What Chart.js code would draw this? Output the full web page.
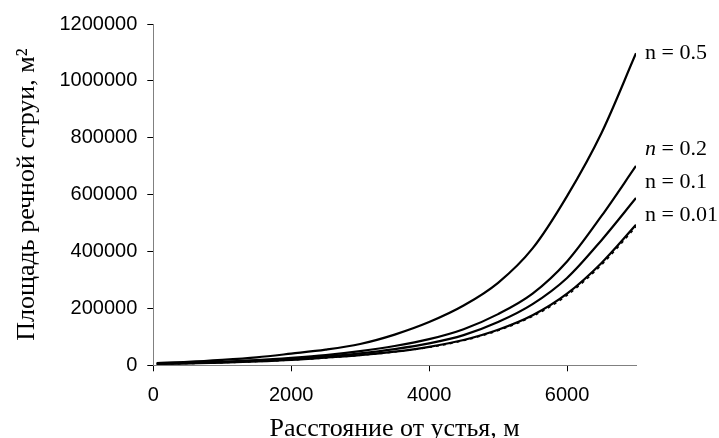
<!DOCTYPE html>
<html><head><meta charset="utf-8">
<script src="https://cdn.jsdelivr.net/npm/chart.js@4.4.0/dist/chart.umd.min.js"></script>
<style>html,body{margin:0;padding:0;background:#fff}</style>
</head><body>
<canvas id="c" width="719" height="438"></canvas>
<script>
// ---- data ----
const distances = [50, 500, 1000, 1500, 2000, 2500, 3000, 3500, 4000, 4500, 5000, 5500, 6000, 6500, 7000];
const areaN05  = [8000, 12000, 19000, 28000, 41000, 55000, 75000, 108000, 152000, 210000, 290000, 411000, 595000, 817000, 1097000];
const areaN02  = [6000, 8500, 12500, 18000, 26000, 36000, 50000, 68000, 92000, 127000, 180000, 252000, 365000, 525000, 701000];
const areaN01  = [5500, 7500, 11000, 15500, 22000, 31000, 42000, 57000, 77000, 106000, 152000, 215000, 307000, 440000, 588000];
const areaN001 = [5000, 6500, 9500, 13500, 19000, 27000, 36000, 48000, 65000, 89000, 125000, 176000, 252000, 360000, 494000];
const areaRef  = [4800, 6300, 9000, 13000, 18500, 26000, 35000, 47000, 63000, 87000, 122000, 172000, 246000, 353000, 487000];
const seriesNames = ['n = 0.5', 'n = 0.2', 'n = 0.1', 'n = 0.01', ''];
const yTicks = [0, 200000, 400000, 600000, 800000, 1000000, 1200000];
const xTicks = [0, 2000, 4000, 6000];
const xTitle = 'Расстояние от устья, м';
const yTitle = 'Площадь речной струи, м²';

const toPts = arr => arr.map((v, i) => ({x: distances[i], y: v}));

const labelOffsets = [0, -17, -16, -10];
const endLabels = {
  id: 'endLabels',
  afterDatasetsDraw(chart) {
    const ctx = chart.ctx, xs = chart.scales.x, ys = chart.scales.y;
    ctx.save();
    ctx.fillStyle = '#000';
    ctx.textBaseline = 'middle';
    ctx.textAlign = 'left';
    for (let i = 0; i < 4; i++) {
      const ds = chart.data.datasets[i];
      const last = ds.data[ds.data.length - 1];
      const x = xs.getPixelForValue(last.x) + 9;
      const y = ys.getPixelForValue(last.y) + labelOffsets[i];
      const txt = seriesNames[i];
      if (i === 1) {
        ctx.font = 'italic 22px "Liberation Serif", serif';
        ctx.fillText('n', x, y);
        const w = ctx.measureText('n').width;
        ctx.font = '22px "Liberation Serif", serif';
        ctx.fillText(txt.slice(1), x + w, y);
      } else {
        ctx.font = '22px "Liberation Serif", serif';
        ctx.fillText(txt, x, y);
      }
    }
    ctx.restore();
  }
};

const solid = (label, arr) => ({
  label, data: toPts(arr), borderColor: '#000', borderWidth: 2.2,
  pointRadius: 0, fill: false, cubicInterpolationMode: 'monotone'
});

new Chart(document.getElementById('c'), {
  type: 'line',
  data: {
    datasets: [
      solid(seriesNames[0], areaN05),
      solid(seriesNames[1], areaN02),
      solid(seriesNames[2], areaN01),
      solid(seriesNames[3], areaN001),
      { label: 'ref', data: toPts(areaRef), borderColor: '#000', borderWidth: 1.5,
        borderDash: [3, 4], pointRadius: 0, fill: false, cubicInterpolationMode: 'monotone' }
    ]
  },
  options: {
    responsive: false,
    animation: false,
    layout: { padding: { left: 0, right: 83, top: 24, bottom: 0 } },
    plugins: { legend: { display: false }, tooltip: { enabled: false } },
    scales: {
      x: {
        type: 'linear', min: 0, max: 7000,
        afterFit(s) { s.height = 72.7; },
        afterBuildTicks(s) { s.ticks = xTicks.map(v => ({value: v})); },
        grid: { drawOnChartArea: false, drawTicks: true, tickLength: 6, color: '#000' },
        border: { color: '#808080', width: 1 },
        ticks: { color: '#000', padding: 12, maxRotation: 0,
                 callback: v => String(v),
                 font: { family: '"Liberation Sans", Arial, sans-serif', size: 20 } },
        title: { display: true, text: xTitle, color: '#000',
                 padding: { top: 0, bottom: 0 },
                 font: { family: '"Liberation Serif", "Times New Roman", serif', size: 26, lineHeight: '18px' } }
      },
      y: {
        type: 'linear', min: 0, max: 1200000,
        afterFit(s) { s.width = 153.3; },
        afterBuildTicks(s) { s.ticks = yTicks.map(v => ({value: v})); },
        grid: { drawOnChartArea: false, drawTicks: true, tickLength: 6, color: '#000' },
        border: { color: '#808080', width: 1 },
        ticks: { color: '#000', padding: 10,
                 callback: v => String(v),
                 font: { family: '"Liberation Sans", Arial, sans-serif', size: 20 } },
        title: { display: true, text: yTitle, color: '#000',
                 padding: { top: 18, bottom: 0 },
                 font: { family: '"Liberation Serif", "Times New Roman", serif', size: 26, lineHeight: '18px' } }
      }
    }
  },
  plugins: [endLabels]
});
</script>
</body></html>
